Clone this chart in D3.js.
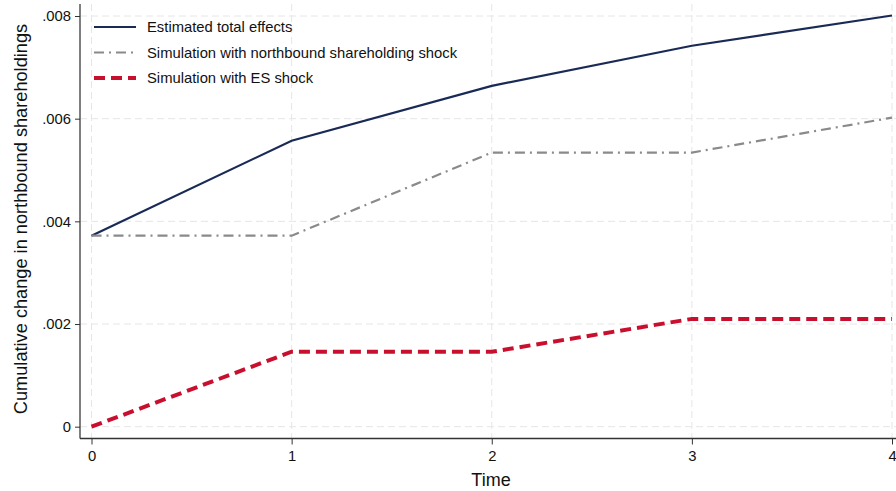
<!DOCTYPE html>
<html><head><meta charset="utf-8">
<script src="https://cdn.jsdelivr.net/npm/d3@7"></script>
<style>body{margin:0;background:#fff}svg{display:block}</style>
</head><body>
<svg id="c" width="896" height="491"></svg>
<script>
const times = [0, 1, 2, 3, 4];
const totalEffects = [0.00372, 0.00557, 0.00664, 0.00742, 0.00801];
const northboundSim = [0.00372, 0.00372, 0.00534, 0.00534, 0.00602];
const esSim = [0.0, 0.00146, 0.00146, 0.00210, 0.00210];
const yTicks = [0, 0.002, 0.004, 0.006, 0.008];
const yTickLabels = ["0", ".002", ".004", ".006", ".008"];
const seriesNames = ["Estimated total effects", "Simulation with northbound shareholding shock", "Simulation with ES shock"];

const svg = d3.select("#c");
const font = "Liberation Sans, Arial, sans-serif";
const x = d3.scaleLinear().domain([0, 4]).range([91.5, 892]);
const y = d3.scaleLinear().domain([0, 0.008]).range([426.7, 16]);

// grid
const g = svg.append("g");
g.selectAll("line.h").data(yTicks).join("line")
  .attr("x1", 80).attr("x2", 896).attr("y1", d => y(d)).attr("y2", d => y(d))
  .attr("stroke", "#e6e6e6").attr("stroke-width", 1).attr("stroke-dasharray", "7,4");
g.selectAll("line.v").data(times).join("line")
  .attr("y1", 4).attr("y2", 438).attr("x1", d => x(d)).attr("x2", d => x(d))
  .attr("stroke", "#e6e6e6").attr("stroke-width", 1).attr("stroke-dasharray", "7,4");

// axes
const yAxis = d3.axisLeft(y).tickValues(yTicks).tickFormat((d, i) => yTickLabels[i]).tickSize(5).tickPadding(4);
const ya = svg.append("g").attr("transform", "translate(80,0)").call(yAxis);
ya.select(".domain").attr("d", "M0,4V438.5").attr("stroke", "#555").attr("stroke-width", 1.5);
const xAxis = d3.axisBottom(x).tickValues(times).tickFormat(d3.format("d")).tickSize(6).tickPadding(6);
const xa = svg.append("g").attr("transform", "translate(0,438.5)").call(xAxis);
xa.select(".domain").attr("d", "M80,0H896").attr("stroke", "#333").attr("stroke-width", 1.5);
[ya, xa].forEach(a => {
  a.selectAll("text").attr("font-family", font).attr("font-size", 14.8).attr("fill", "#111");
  a.selectAll(".tick line").attr("stroke", "#333");
});

// lines
const line = d3.line().x((d, i) => x(times[i])).y(d => y(d));
const styles = [
  {data: totalEffects, color: "#1a2a57", width: 2.2, dash: null},
  {data: northboundSim, color: "#8a8a8a", width: 2.2, dash: "10,5,2,5"},
  {data: esSim, color: "#c8102e", width: 4, dash: "11,6"}
];
styles.forEach(s => {
  svg.append("path").attr("d", line(s.data)).attr("fill", "none")
    .attr("stroke", s.color).attr("stroke-width", s.width)
    .attr("stroke-dasharray", s.dash);
});

// legend
const lg = svg.append("g");
seriesNames.forEach((name, i) => {
  const yy = 27 + i * 25.5;
  const s = styles[i];
  lg.append("line").attr("x1", 94).attr("x2", 136).attr("y1", yy).attr("y2", yy)
    .attr("stroke", s.color).attr("stroke-width", s.width).attr("stroke-dasharray", s.dash);
  lg.append("text").attr("x", 147).attr("y", yy + 5.2).text(name)
    .attr("font-family", font).attr("font-size", 14.8).attr("fill", "#111");
});

// titles
svg.append("text").attr("x", 491).attr("y", 486).attr("text-anchor", "middle")
  .attr("font-family", font).attr("font-size", 18).attr("fill", "#111").text("Time");
svg.append("text").attr("transform", "translate(27,219) rotate(-90)").attr("text-anchor", "middle")
  .attr("font-family", font).attr("font-size", 18.2).attr("fill", "#111").text("Cumulative change in northbound shareholdings");
</script>
</body></html>
